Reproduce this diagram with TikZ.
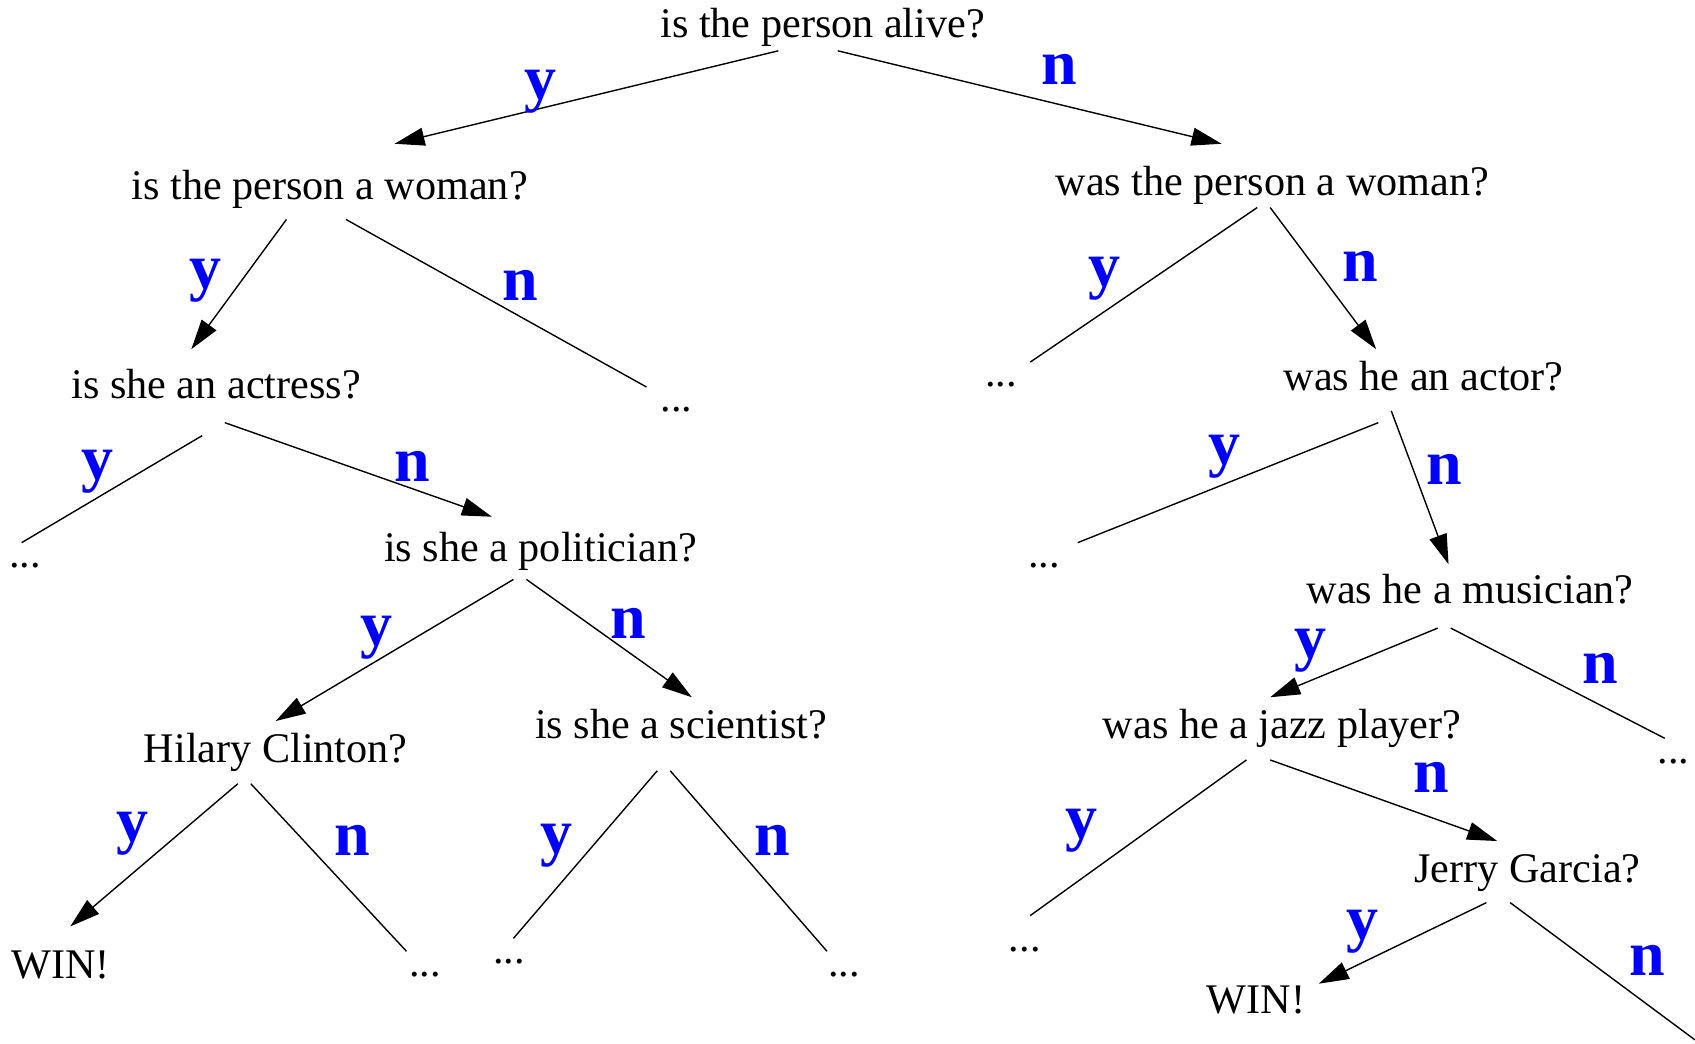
\documentclass[tikz,border=0pt]{standalone}
\usepackage{fontspec}
\setmainfont{Liberation Serif}
\usetikzlibrary{calc,arrows.meta}
\definecolor{lblblue}{RGB}{0,0,255}
\tikzset{
  q/.style={inner sep=0pt, anchor=base, font=\fontsize{21.1}{25}\selectfont},
  lbl/.style={inner sep=0pt, anchor=base, text=lblblue, font=\fontsize{32}{36}\selectfont\bfseries},
  ln/.style={line width=0.7pt},
  arr/.style={line width=0.7pt, -{Triangle[length=15pt,width=9pt]}}
}
\begin{document}
\begin{tikzpicture}[x=0.5405pt, y=-0.5405pt]
\useasboundingbox (0,0) rectangle (1568,965);
% question / leaf nodes
\node[q] (alive) at (761,35) {is the person alive?};
\node[q] (woman1) at (305,185) {is the person a woman?};
\node[q] (woman2) at (1177,181) {was the person a woman?};
\node[q] (actress) at (200,369) {is she an actress?};
\node[q] (dots1) at (626,381) {...};
\node[q] (dots2) at (926,358) {...};
\node[q] (actor) at (1317,361) {was he an actor?};
\node[q] (dots3) at (23,525) {...};
\node[q] (politician) at (500,519) {is she a politician?};
\node[q] (dots4) at (966,525) {...};
\node[q] (musician) at (1360,558) {was he a musician?};
\node[q] (clinton) at (255,705) {Hilary Clinton?};
\node[q] (scientist) at (630,683) {is she a scientist?};
\node[q] (jazz) at (1186,683) {was he a jazz player?};
\node[q] (dots5) at (1548,706) {...};
\node[q] (win1) at (56,905) {WIN!};
\node[q] (dots6) at (393,903) {...};
\node[q] (dots7) at (471,891) {...};
\node[q] (dots8) at (781,903) {...};
\node[q] (dots9) at (948,880) {...};
\node[q] (garcia) at (1413,816) {Jerry Garcia?};
\node[q] (win2) at (1162,938) {WIN!};
\coordinate (off) at (1568,962);
% connectors
\draw[arr] ($(alive.base)+(-41,12)$) -- ($(woman1.base)+(60,-52)$);
\draw[arr] ($(alive.base)+(14,12)$) -- ($(woman2.base)+(-47,-48)$);
\draw[arr] ($(woman1.base)+(-40,18)$) -- ($(actress.base)+(-23,-46)$);
\draw[ln] ($(woman1.base)+(15,18)$) -- ($(dots1.base)+(-28,-23)$);
\draw[ln] ($(woman2.base)+(-14,11)$) -- ($(dots2.base)+(27,-23)$);
\draw[arr] ($(woman2.base)+(-2,11)$) -- ($(actor.base)+(-44,-38)$);
\draw[ln] ($(actress.base)+(-13,34)$) -- ($(dots3.base)+(-3,-23)$);
\draw[arr] ($(actress.base)+(8,22)$) -- ($(politician.base)+(-45,-41)$);
\draw[ln] ($(actor.base)+(-42,30)$) -- ($(dots4.base)+(31,-23)$);
\draw[arr] ($(actor.base)+(-30,19)$) -- ($(musician.base)+(-20,-36)$);
\draw[arr] ($(politician.base)+(-25,17)$) -- ($(clinton.base)+(0,-38)$);
\draw[arr] ($(politician.base)+(-13,17)$) -- ($(scientist.base)+(10,-38)$);
\draw[arr] ($(musician.base)+(-30,23)$) -- ($(jazz.base)+(-11,-38)$);
\draw[ln] ($(musician.base)+(-18,23)$) -- ($(dots5.base)+(-8,-23)$);
\draw[arr] ($(clinton.base)+(-35,20)$) -- ($(win1.base)+(9,-48)$);
\draw[ln] ($(clinton.base)+(-23,20)$) -- ($(dots6.base)+(-17,-23)$);
\draw[ln] ($(scientist.base)+(-22,30)$) -- ($(dots7.base)+(4,-23)$);
\draw[ln] ($(scientist.base)+(-10,30)$) -- ($(dots8.base)+(-16,-23)$);
\draw[ln] ($(jazz.base)+(-33,20)$) -- ($(dots9.base)+(5,-33)$);
\draw[arr] ($(jazz.base)+(-11,20)$) -- ($(garcia.base)+(-28,-38)$);
\draw[arr] ($(garcia.base)+(-38,19)$) -- ($(win2.base)+(58,-28)$);
\draw[ln] ($(garcia.base)+(-16,19)$) -- (off);
% branch labels
\node[lbl] (y1) at (500,92) {y};
\node[lbl] (n1) at (980,78) {n};
\node[lbl] (y2) at (190,267) {y};
\node[lbl] (n2) at (481,278) {n};
\node[lbl] (y3) at (1022,265) {y};
\node[lbl] (n3) at (1258,260) {n};
\node[lbl] (y4) at (90,444) {y};
\node[lbl] (n4) at (381,445) {n};
\node[lbl] (y5) at (1133,430) {y};
\node[lbl] (n5) at (1336,448) {n};
\node[lbl] (y6) at (348,597) {y};
\node[lbl] (n6) at (581,591) {n};
\node[lbl] (y7) at (1212,609) {y};
\node[lbl] (n7) at (1480,632) {n};
\node[lbl] (y8) at (123,778) {y};
\node[lbl] (n8) at (326,791) {n};
\node[lbl] (y9) at (515,790) {y};
\node[lbl] (n9) at (714,791) {n};
\node[lbl] (y10) at (1000,776) {y};
\node[lbl] (n10) at (1324,733) {n};
\node[lbl] (y11) at (1260,869) {y};
\node[lbl] (n11) at (1524,902) {n};
\end{tikzpicture}
\end{document}
